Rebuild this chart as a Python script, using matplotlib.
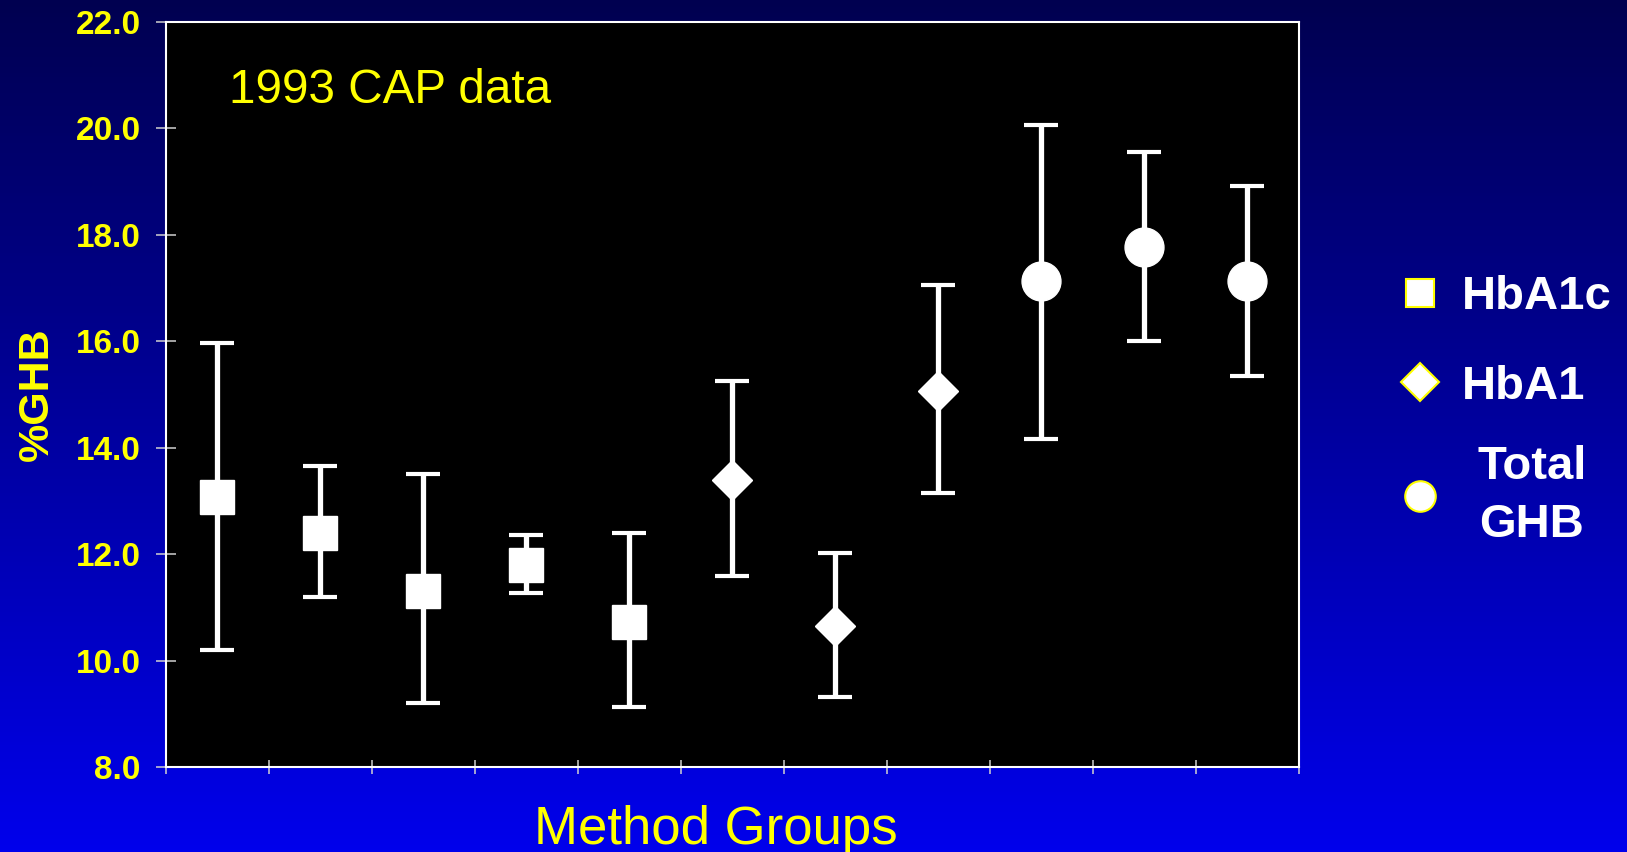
import numpy as np
import matplotlib
matplotlib.use("Agg")
import matplotlib.pyplot as plt
from matplotlib.lines import Line2D

plt.rcParams['font.family'] = ['Liberation Sans', 'DejaVu Sans']

# Data: mean %GHB with low / high ends of the range
hba1c_mean = [13.07, 12.39, 11.30, 11.79, 10.72]
hba1c_low = [10.20, 11.20, 9.20, 11.27, 9.13]
hba1c_high = [15.97, 13.66, 13.50, 12.35, 12.39]

hba1_mean = [13.40, 10.65, 15.07]
hba1_low = [11.59, 9.32, 13.14]
hba1_high = [15.25, 12.03, 17.05]

total_mean = [17.13, 17.77, 17.13]
total_low = [14.17, 16.01, 15.34]
total_high = [20.07, 19.55, 18.91]

y_ticks = [8.0, 10.0, 12.0, 14.0, 16.0, 18.0, 20.0, 22.0]
legend_labels = ['HbA1c', 'HbA1', 'Total\nGHB']

YELLOW = '#ffff00'

fig = plt.figure(figsize=(16.27, 8.52), dpi=100)

# blue gradient background of the slide
bg = fig.add_axes([0, 0, 1, 1], zorder=-10)
grad = np.linspace(0, 1, 256).reshape(-1, 1)
top = np.array([0, 0, 80]) / 255
bottom = np.array([0, 0, 236]) / 255
img = top + (bottom - top) * grad[:, :, None]
bg.imshow(img, aspect='auto', extent=[0, 1, 0, 1], origin='upper')
bg.axis('off')

ax = fig.add_axes([0.1020, 0.0998, 0.6964, 0.8744])
ax.set_facecolor('black')

# group positions: one slot per method group
n1, n2, n3 = len(hba1c_mean), len(hba1_mean), len(total_mean)
x_all = np.arange(n1 + n2 + n3) + 0.5
x1, x2, x3 = x_all[:n1], x_all[n1:n1 + n2], x_all[n1 + n2:]

err_kw = dict(ls='none', color='white', ecolor='white', elinewidth=3.8,
              capsize=12.2, capthick=3.0, zorder=3)


def draw(x, mean, low, high, marker, ms):
    mean = np.array(mean)
    yerr = [mean - np.array(low), np.array(high) - mean]
    ax.errorbar(x, mean, yerr=yerr, marker=marker, ms=ms, **err_kw)


draw(x1, hba1c_mean, hba1c_low, hba1c_high, 's', 24)
draw(x2, hba1_mean, hba1_low, hba1_high, 'D', 20)
draw(x3, total_mean, total_low, total_high, 'o', 28)

ax.set_xlim(0, len(x_all))
ax.set_ylim(8, 22)
ax.set_xticks(np.arange(len(x_all) + 1))
ax.set_xticklabels([])
ax.set_yticks(y_ticks)
ax.set_yticklabels([f'{v:.1f}' for v in y_ticks], color=YELLOW,
                   fontsize=24, fontweight='bold')
ax.tick_params(axis='y', direction='inout', length=14.4, width=1.1,
               color='#d0d0d0', pad=11)
ax.tick_params(axis='x', direction='inout', length=10, width=1.1,
               color='#d0d0d0')
for s in ax.spines.values():
    s.set_color('white')
    s.set_linewidth(1.5)

ax.set_ylabel('%GHB', color=YELLOW, fontsize=31, fontweight='bold', va='center')
ax.yaxis.set_label_coords(-0.114, 0.5)
ax.set_xlabel('Method Groups', color=YELLOW, fontsize=38, va='baseline')
ax.xaxis.set_label_coords(0.4854, -0.1034)

ax.text(0.0556, 0.908, '1993 CAP data', transform=ax.transAxes,
        color=YELLOW, fontsize=34.3, va='center', ha='left')

# legend: markers white with a yellow edge
def key(marker, ms):
    return Line2D([], [], ls='none', marker=marker, ms=ms, mfc='white',
                  mec=YELLOW, mew=1.5)


leg_kw = dict(frameon=False, labelcolor='white', handlelength=1.0,
              borderpad=0, borderaxespad=0, bbox_transform=fig.transFigure,
              prop={'size': 34, 'weight': 'bold'}, loc='center left')
leg1 = ax.legend([key('s', 20.5), key('D', 19.5)], legend_labels[:2],
                 bbox_to_anchor=(0.858, 1 - 342 / 852), handletextpad=0.4,
                 labelspacing=0.955, **leg_kw)
ax.add_artist(leg1)
leg2 = ax.legend([key('o', 22)], legend_labels[2:],
                 bbox_to_anchor=(0.858, 1 - 496 / 852), handletextpad=0.72,
                 **leg_kw)
for t in leg2.get_texts():
    t.set_multialignment('center')
    t.set_linespacing(1.4)

fig.savefig('out.png', dpi=100)
